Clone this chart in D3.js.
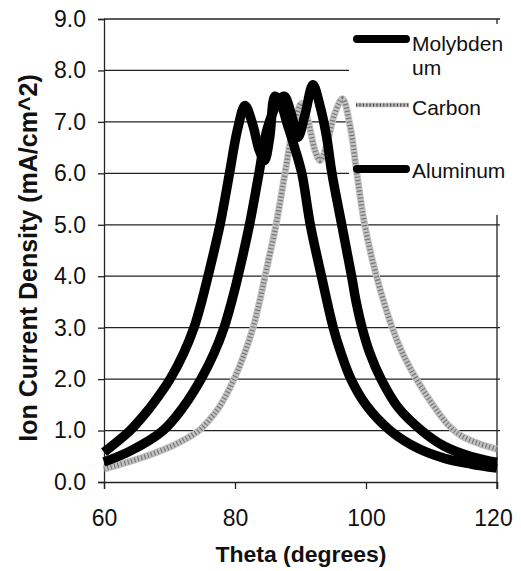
<!DOCTYPE html>
<html>
<head>
<meta charset="utf-8">
<script src="https://cdn.jsdelivr.net/npm/d3@7"></script>
<style>
  html, body { margin: 0; padding: 0; background: #fff; }
  svg { display: block; }
  text { font-family: "Liberation Sans", Arial, Helvetica, sans-serif; fill: #111; }
</style>
</head>
<body>
<svg id="chart" width="521" height="571"></svg>
<script>
// ---- data ----
const xTicks = [60, 80, 100, 120];
const yTicks = [0, 1, 2, 3, 4, 5, 6, 7, 8, 9];
const seriesNames = ["Molybdenum", "Carbon", "Aluminum"];

const molyTheta = [60, 63.97, 66.1, 67.94, 70.08, 72.14, 73.74, 74.89, 75.88, 77.71, 79.16, 80.38, 81.53, 82.7, 83.7, 84.5, 85.3, 86.1, 87, 88, 89.1, 90.2, 91.5, 93.2, 95, 96.2, 97.7, 100, 103.7, 108, 112, 116, 120];
const molyValue = [0.58, 1.0, 1.3, 1.6, 2.0, 2.5, 3.0, 3.5, 4.0, 5.0, 6.0, 6.85, 7.32, 6.95, 6.45, 6.25, 6.7, 7.5, 7.35, 6.95, 6.5, 6.0, 5.0, 4.0, 3.0, 2.5, 2.0, 1.5, 1.0, 0.65, 0.46, 0.35, 0.27];

const alumTheta = [60, 63.97, 69.0, 72.06, 74.81, 76.79, 78.32, 79.47, 80.46, 82.21, 83.66, 84.89, 86.41, 87.5, 88.6, 89.6, 90.7, 91.9, 93, 94, 94.8, 96.3, 97.8, 98.5, 99.4, 100.6, 102.3, 104.9, 108.5, 111.9, 115.9, 120];
const alumValue = [0.39, 0.6, 1.0, 1.45, 2.0, 2.5, 3.0, 3.5, 4.0, 5.0, 6.0, 6.85, 7.35, 7.5, 7.15, 6.7, 7.15, 7.72, 7.3, 6.7, 6.0, 5.0, 4.0, 3.5, 3.0, 2.5, 2.0, 1.45, 1.0, 0.7, 0.5, 0.38];

const carbTheta = [60, 63.97, 67.48, 70.38, 72.67, 74.5, 76.03, 77.56, 79.85, 81.45, 82.75, 83.74, 84.58, 86.26, 87.63, 88.9, 90.2, 91.3, 92.2, 93, 93.9, 95.2, 96.4, 97.6, 98.6, 99.8, 101.6, 104, 105.6, 107.7, 110.2, 112.6, 114.5, 117.2, 120];
const carbValue = [0.25, 0.4, 0.55, 0.7, 0.85, 1.0, 1.2, 1.45, 2.0, 2.5, 3.0, 3.5, 4.0, 5.0, 6.0, 6.9, 7.36, 6.95, 6.45, 6.25, 6.5, 7.15, 7.45, 6.9, 6.0, 5.0, 4.0, 3.0, 2.5, 2.0, 1.5, 1.1, 0.9, 0.75, 0.64];

// ---- layout ----
const svg = d3.select("#chart");
const x = d3.scaleLinear().domain([60, 120]).range([104, 497]);
const y = d3.scaleLinear().domain([0, 9]).range([482, 19]);
const legendLeft = 349;

// gridlines
svg.append("g").selectAll("line").data(yTicks.filter(d => d > 0)).join("line")
  .attr("x1", x(60)).attr("x2", x(120) + 3)
  .attr("y1", d => y(d)).attr("y2", d => y(d))
  .attr("stroke", "#222").attr("stroke-width", 1.3);

// right border
svg.append("line").attr("x1", x(120)).attr("x2", x(120))
  .attr("y1", y(9)).attr("y2", y(0) + 7).attr("stroke", "#222").attr("stroke-width", 1.3);

// legend background covering part of plot
svg.append("rect").attr("x", legendLeft).attr("y", y(9) + 5)
  .attr("width", 521 - legendLeft).attr("height", 215 - (y(9) + 5))
  .attr("fill", "#fff");

// axes
const yAxis = svg.append("g").attr("transform", `translate(${x(60)},0)`)
  .call(d3.axisLeft(y).tickValues(yTicks).tickFormat(d3.format(".1f")).tickSize(6).tickPadding(12));
const xAxis = svg.append("g").attr("transform", `translate(0,${y(0)})`)
  .call(d3.axisBottom(x).tickValues(xTicks).tickFormat(d3.format("d")).tickSize(7).tickPadding(21));
[yAxis, xAxis].forEach(a => {
  a.select(".domain").attr("stroke", "#222").attr("stroke-width", 1.3);
  a.selectAll(".tick line").attr("stroke", "#222").attr("stroke-width", 1.3);
  a.selectAll(".tick text").style("font-family", "Liberation Sans, Arial, sans-serif")
    .style("font-size", "23px").attr("fill", "#111");
});
xAxis.selectAll(".tick text").filter(d => d === 120).attr("dx", "-4");

// curves
const line = d3.line().x(d => x(d[0])).y(d => y(d[1])).curve(d3.curveCatmullRom.alpha(0.5));
const zip = (a, b) => a.map((t, i) => [t, b[i]]);

const carb = zip(carbTheta, carbValue);
svg.append("path").attr("d", line(carb)).attr("fill", "none")
  .attr("stroke", "#c2c2c2").attr("stroke-width", 7).attr("stroke-linejoin", "round");
svg.append("path").attr("d", line(carb)).attr("fill", "none")
  .attr("stroke", "#555").attr("stroke-width", 5).attr("stroke-dasharray", "1.2,2.3")
  .attr("stroke-opacity", 0.7);

[zip(molyTheta, molyValue), zip(alumTheta, alumValue)].forEach(s => {
  svg.append("path").attr("d", line(s)).attr("fill", "none")
    .attr("stroke", "#000").attr("stroke-width", 9.5).attr("stroke-linejoin", "round");
});

// legend
const legendRows = [
  { name: seriesNames[0], lines: ["Molybden", "um"], ly: 39, ty: 51, kind: "black" },
  { name: seriesNames[1], lines: ["Carbon"], ly: 105, ty: 115, kind: "gray" },
  { name: seriesNames[2], lines: ["Aluminum"], ly: 169, ty: 178, kind: "black" }
];
const lg = svg.append("g");
legendRows.forEach(r => {
  if (r.kind === "black") {
    lg.append("line").attr("x1", 357).attr("x2", 406).attr("y1", r.ly).attr("y2", r.ly)
      .attr("stroke", "#000").attr("stroke-width", 8).attr("stroke-linecap", "round");
  } else {
    lg.append("line").attr("x1", 356).attr("x2", 409).attr("y1", r.ly).attr("y2", r.ly)
      .attr("stroke", "#bbb").attr("stroke-width", 4.5);
    lg.append("line").attr("x1", 356).attr("x2", 409).attr("y1", r.ly).attr("y2", r.ly)
      .attr("stroke", "#444").attr("stroke-width", 3).attr("stroke-dasharray", "1.2,2.2");
  }
  const t = lg.append("text").attr("x", 412).attr("y", r.ty).style("font-size", "21px");
  r.lines.forEach((s, i) => {
    t.append("tspan").attr("x", 412).attr("dy", i === 0 ? 0 : 23.5).text(s);
  });
});

// axis titles
svg.append("text").attr("x", 301).attr("y", 562).attr("text-anchor", "middle")
  .style("font-size", "22px").style("font-weight", "bold")
  .attr("textLength", 171).attr("lengthAdjust", "spacingAndGlyphs")
  .text("Theta (degrees)");
svg.append("text").attr("transform", "translate(37,258) rotate(-90)")
  .attr("text-anchor", "middle")
  .style("font-size", "25px").style("font-weight", "bold")
  .text("Ion Current Density (mA/cm^2)");
</script>
</body>
</html>
